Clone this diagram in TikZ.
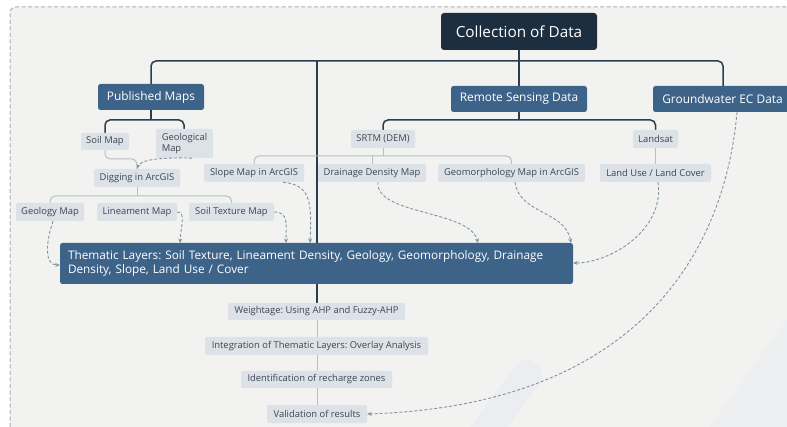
\documentclass[tikz,border=0pt]{standalone}
\usepackage{fontspec}
\setmainfont{Open Sans}
\frenchspacing
\usetikzlibrary{arrows.meta}
\definecolor{bgc}{HTML}{F2F2F1}
\definecolor{framec}{HTML}{A9B2B6}
\definecolor{darkc}{HTML}{1C2E40}
\definecolor{midc}{HTML}{3E6389}
\definecolor{leafc}{HTML}{DDE2E9}
\definecolor{leaftext}{HTML}{3C4650}
\definecolor{busc}{HTML}{2B3E50}
\definecolor{lightln}{HTML}{B9BFC5}
\definecolor{dashc}{HTML}{7D95A3}
\definecolor{decoc}{HTML}{E9ECF0}
\tikzset{
  rootbox/.style={fill=darkc, text=white, rounded corners=3pt, inner sep=0pt, font=\fontsize{15.3}{17}\selectfont},
  midbox/.style={fill=midc, text=white, rounded corners=2.5pt, inner sep=0pt, font=\fontsize{11.9}{14}\selectfont},
  leafbox/.style={fill=leafc, text=leaftext, rounded corners=2pt, inner sep=0pt, font=\fontsize{9.4}{11.5}\selectfont},
  bus/.style={draw=busc, line width=1.5pt, rounded corners=5pt},
  thin/.style={draw=lightln, line width=1pt, rounded corners=5pt},
  dasharrow/.style={draw=dashc, line width=0.9pt, dash pattern=on 3pt off 2pt, -{Stealth[length=4.5pt,width=4pt]}},
}
\begin{document}
\begin{tikzpicture}[x=1pt,y=-1pt]
\useasboundingbox (0,0) rectangle (787,427);
\fill[white] (0,0) rectangle (787,427);
% frame and background
\fill[bgc, rounded corners=6pt] (10,440) -- (10,7) -- (800,7) -- (800,440) -- cycle;
\fill[decoc!50!bgc] (700,440) -- (800,300) -- (800,440) -- cycle;
\draw[decoc!80!bgc, line width=30pt, line cap=round] (527,375) -- (465,460);
\draw[framec, line width=1pt, dash pattern=on 4pt off 2.5pt, rounded corners=6pt] (10,440) -- (10,7) -- (800,7);

% bus lines
\draw[bus] (151,84) -- (151,61) -- (723,61) -- (723,86);
\draw[bus] (519,50) -- (519,86);
\draw[bus] (317,61) -- (317,303);
\draw[bus] (151,110) -- (151,120);
\draw[bus] (105,133) -- (105,120) -- (184,120) -- (184,129);
\draw[bus] (519,112) -- (519,120);
\draw[bus] (383,130) -- (383,120) -- (655.5,120) -- (655.5,130);

% light connectors
\draw[thin] (105,150) -- (105,159) -- (137,159) -- (137,169);
\draw[thin] (137,187) -- (137,196);
\draw[thin] (50,203) -- (50,196) -- (231.5,196) -- (231.5,203);
\draw[thin] (383,148) -- (383,156);
\draw[thin] (254,164) -- (254,156) -- (511.5,156) -- (511.5,165);
\draw[thin] (372,156) -- (372,165);
\draw[thin] (655.5,148) -- (655.5,164);
\draw[thin] (317,320) -- (317,337);
\draw[thin] (317,355) -- (317,371);
\draw[thin] (317,388) -- (317,405);

% nodes
\node[rootbox, minimum width=156, minimum height=37] (coll) at (519,31.5) {Collection of Data};
\node[midbox, minimum width=106, minimum height=26] (pub) at (151,97) {Published Maps};
\node[midbox, minimum width=136, minimum height=26] (rsd) at (519,99) {Remote Sensing Data};
\node[midbox, minimum width=139, minimum height=26] (gw) at (722.5,99) {Groundwater EC Data};
\node[leafbox, minimum width=48, minimum height=17] (soil) at (105,141.5) {Soil Map};
\node[leafbox, minimum width=57, minimum height=29, align=left] (geol) at (184.5,143.5) {Geological\\Map};
\node[leafbox, minimum width=86, minimum height=18] (dig) at (137,178) {Digging in ArcGIS};
\node[leafbox, minimum width=68, minimum height=18] (geolm) at (50,212) {Geology Map};
\node[leafbox, minimum width=80, minimum height=18] (lin) at (137,212) {Lineament Map};
\node[leafbox, minimum width=85, minimum height=18] (stex) at (231.5,212) {Soil Texture Map};
\node[leafbox, minimum width=64, minimum height=18] (srtm) at (383,139) {SRTM (DEM)};
\node[leafbox, minimum width=45, minimum height=18] (landsat) at (655.5,139) {Landsat};
\node[leafbox, minimum width=111, minimum height=18] (lulc) at (655.5,173) {Land Use / Land Cover};
\node[leafbox, minimum width=100, minimum height=18] (slope) at (254,173) {Slope Map in ArcGIS};
\node[leafbox, minimum width=108, minimum height=18] (dd) at (372,173) {Drainage Density Map};
\node[leafbox, minimum width=147, minimum height=18] (geo) at (511.5,173) {Geomorphology Map in ArcGIS};
\node[midbox, minimum width=513, minimum height=41, text width=497, align=left, font=\fontsize{11.8}{14}\selectfont] (them) at (316.5,263.5) {Thematic Layers: Soil Texture, Lineament Density, Geology, Geomorphology, Drainage\\Density, Slope, Land Use / Cover};
\node[leafbox, minimum width=177, minimum height=17] (wt) at (316.5,311.5) {Weightage: Using AHP and Fuzzy-AHP};
\node[leafbox, minimum width=223, minimum height=18] (int) at (316.5,346) {Integration of Thematic Layers: Overlay Analysis};
\node[leafbox, minimum width=151, minimum height=17] (ident) at (316.5,379.5) {Identification of recharge zones};
\node[leafbox, minimum width=100, minimum height=18] (val) at (317,414) {Validation of results};

% dashed arrows
\draw[dasharrow] (geol.south east) ++(-21,0) .. controls (160,157) and (140,160) .. (dig.north);
\draw[dasharrow] (geolm.south) ++(3,0) .. controls (45,245) and (45,265) .. (them.west |- 0,265);
\draw[dasharrow] (lin.east) .. controls (186,212) and (181,225) .. (180,243);
\draw[dasharrow] (stex.east) .. controls (289,212) and (286,225) .. (286,243);
\draw[dasharrow] (slope.south) ++(29,0) .. controls (310,185) and (312,200) .. (310,243);
\draw[dasharrow] (dd.south) ++(6,0) .. controls (375,215) and (470,210) .. (478,243);
\draw[dasharrow] (geo.south) ++(3.5,0) .. controls (520,215) and (565,210) .. (571,243);
\draw[dasharrow] (lulc.south) ++(2.5,0) .. controls (665,230) and (610,263) .. (them.east |- 0,263);
\draw[dasharrow] (gw.south) ++(14.5,0) .. controls (725,250) and (640,405) .. (val.east);
\end{tikzpicture}
\end{document}
